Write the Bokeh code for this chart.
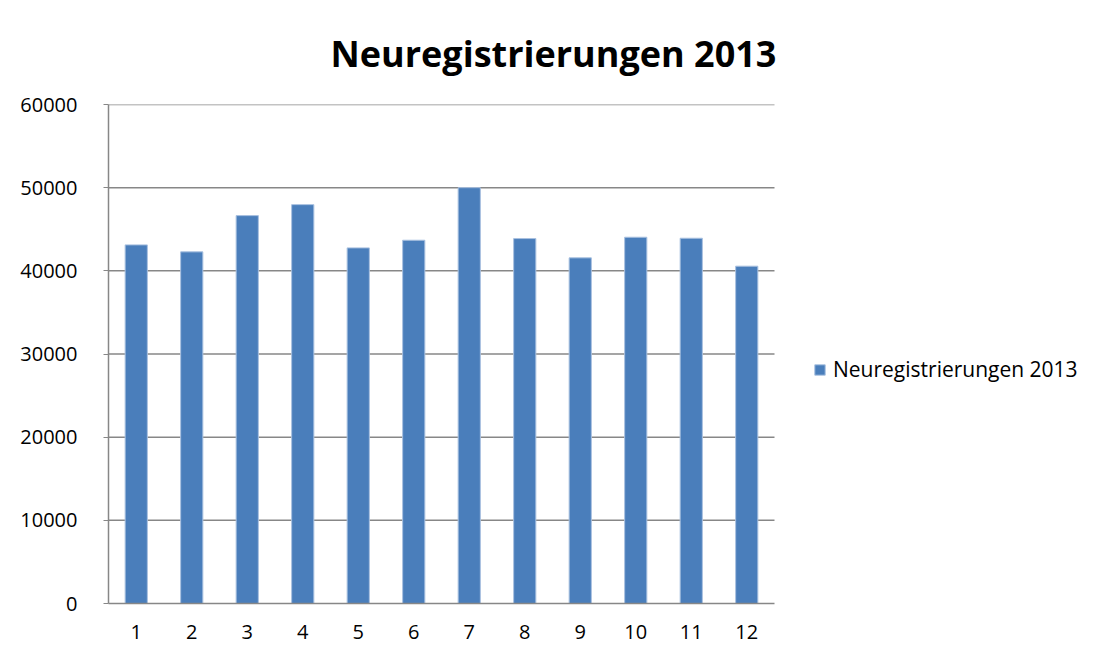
from bokeh.plotting import figure
from bokeh.models import ColumnDataSource, Range1d, Legend, LegendItem, FixedTicker
from bokeh.embed import file_html
from bokeh.resources import INLINE

months = [1, 2, 3, 4, 5, 6, 7, 8, 9, 10, 11, 12]
registrations = [43120, 42280, 46640, 47960, 42760, 43680, 50000, 43880, 41560, 44040, 43920, 40560]
title_text = "Neuregistrierungen 2013"
series_name = "Neuregistrierungen 2013"
y_ticks = [0, 10000, 20000, 30000, 40000, 50000, 60000]

FONT = "Open Sans"
GRID = "#878787"

X_START, X_END = 0.5, 12.5          # category band of the plot area
X_VIEW_END = X_START + 988 / 55.5   # extra room on the right for the legend

src = ColumnDataSource(dict(x=months, top=registrations))

p = figure(width=1096, height=647, output_backend="svg", toolbar_location=None,
           x_range=Range1d(X_START, X_VIEW_END), y_range=Range1d(0, 60000),
           min_border_left=108, min_border_right=0, min_border_top=104, min_border_bottom=44)
p.background_fill_color = "white"
p.border_fill_color = "white"
p.outline_line_color = None

# horizontal gridlines limited to the plot area
grid_src = ColumnDataSource(dict(y=y_ticks[1:]))
p.segment(x0=X_START, x1=X_END, y0="y", y1="y", source=grid_src,
          line_color=GRID, line_width=1.5)

r = p.vbar(x="x", top="top", width=0.4, source=src, fill_color="#4a7ebb",
           line_color="#a9c1e0", line_width=1)

# title
p.title.text = title_text
p.title.align = "left"
p.title.offset = 222
p.title.standoff = 53
p.title.text_font = FONT
p.title.text_font_style = "bold"
p.title.text_font_size = "36px"
p.title.text_color = "black"

# axes
p.xaxis.ticker = FixedTicker(ticks=months)
p.xaxis.bounds = (X_START, X_END)
p.yaxis.ticker = FixedTicker(ticks=y_ticks)
for ax in (p.xaxis[0], p.yaxis[0]):
    ax.axis_line_color = GRID
    ax.axis_line_width = 1.5
    ax.major_label_text_font = FONT
    ax.major_label_text_font_size = "20px"
    ax.major_label_text_color = "black"
    ax.minor_tick_line_color = None
p.xaxis.major_tick_line_color = None
p.xaxis.major_label_standoff = 15
p.yaxis.major_tick_line_color = GRID
p.yaxis.major_tick_out = 5
p.yaxis.major_tick_in = 0
p.yaxis.major_label_standoff = 26

p.xgrid.grid_line_color = None
p.ygrid.grid_line_color = None

legend = Legend(items=[LegendItem(label=series_name, renderers=[r])],
                location=(705, 220), glyph_width=13, glyph_height=13,
                padding=0, margin=0, label_standoff=7, border_line_color=None,
                background_fill_alpha=0, label_text_font=FONT,
                label_text_font_size="21px", label_text_color="black")
p.add_layout(legend)

open("out.html", "w").write(file_html(p, INLINE))
